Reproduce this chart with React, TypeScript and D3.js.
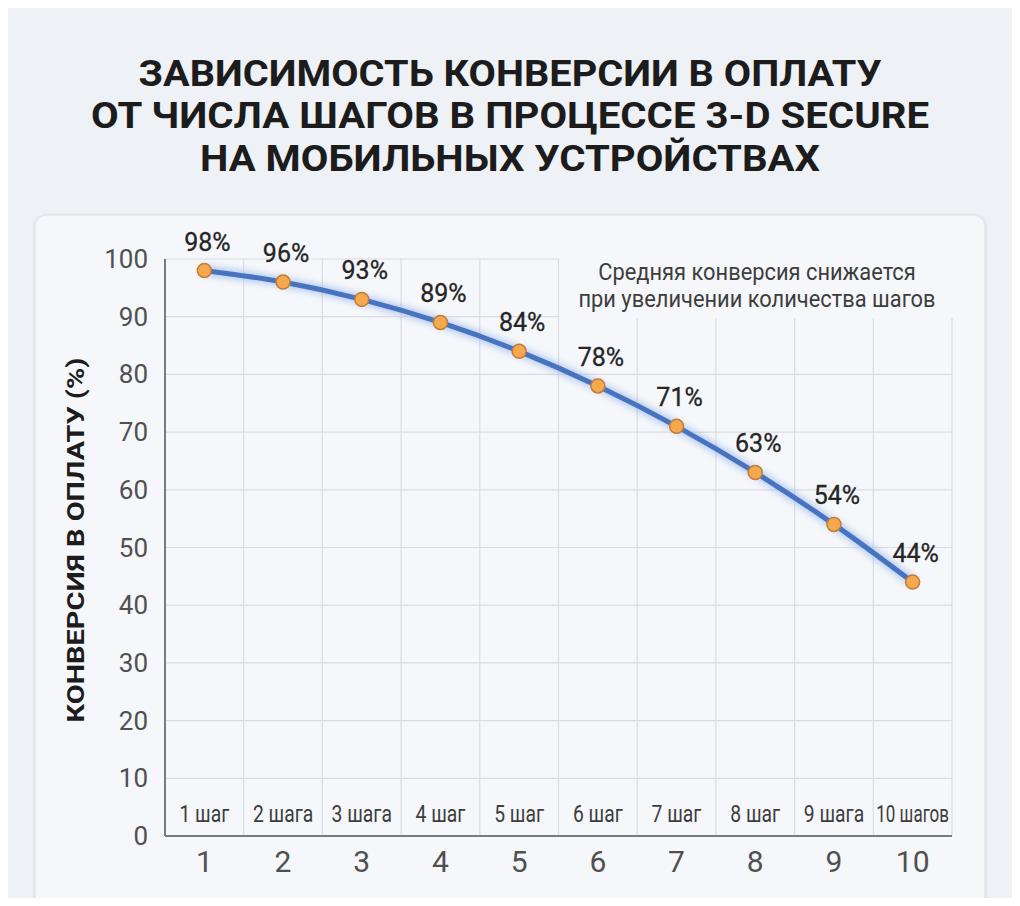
import React, { useEffect, useRef } from 'react';
import * as d3 from 'd3';

const steps = [1, 2, 3, 4, 5, 6, 7, 8, 9, 10];
const stepLabels = ['1 шаг', '2 шага', '3 шага', '4 шаг', '5 шаг', '6 шаг', '7 шаг', '8 шаг', '9 шага', '10 шагов'];
const conversion = [98, 96, 93, 89, 84, 78, 71, 63, 54, 44];
const yTicks = [0, 10, 20, 30, 40, 50, 60, 70, 80, 90, 100];
const titleLines = [
  'ЗАВИСИМОСТЬ КОНВЕРСИИ В ОПЛАТУ',
  'ОТ ЧИСЛА ШАГОВ В ПРОЦЕССЕ 3-D SECURE',
  'НА МОБИЛЬНЫХ УСТРОЙСТВАХ',
];
const noteLines = ['Средняя конверсия снижается', 'при увеличении количества шагов'];
const yLabel = 'КОНВЕРСИЯ В ОПЛАТУ (%)';

const W = 1020;
const H = 906;
const FONT = 'Roboto, "Noto Sans", sans-serif';

const App: React.FC = () => {
  const svgRef = useRef<SVGSVGElement>(null);

  useEffect(() => {
    if (!svgRef.current) return;
    const root = d3.select(svgRef.current);
    root.selectAll('*').remove();

    const plot = { left: 165, right: 952, top: 259, bottom: 836 };

    // Background + card
    root.append('rect').attr('width', W).attr('height', H).attr('fill', '#eef1f5');
    const defs = root.append('defs');
    const sh = defs.append('filter').attr('id', 'cardShadow').attr('x', '-5%').attr('y', '-5%').attr('width', '110%').attr('height', '110%');
    sh.append('feDropShadow').attr('dx', 0).attr('dy', 1).attr('stdDeviation', 1.5).attr('flood-color', '#9aa4b2').attr('flood-opacity', 0.35);
    const glow = defs.append('filter').attr('id', 'lineGlow').attr('x', '-10%').attr('y', '-20%').attr('width', '120%').attr('height', '140%');
    glow.append('feGaussianBlur').attr('stdDeviation', 3);

    root.append('rect')
      .attr('x', 35).attr('y', 215).attr('width', 950).attr('height', 720)
      .attr('rx', 11)
      .attr('fill', '#f5f7fa')
      .attr('stroke', '#e1e5eb')
      .attr('stroke-width', 1.5)
      .attr('filter', 'url(#cardShadow)');

    // Title
    const titleWidths = [743, 838, 620];
    const titleBase = [86, 128, 171];
    titleLines.forEach((t, i) => {
      root.append('text')
        .attr('x', 510).attr('y', titleBase[i])
        .attr('text-anchor', 'middle')
        .attr('font-family', FONT)
        .attr('font-weight', 700)
        .attr('font-size', 37)
        .attr('fill', '#1c1c1c')
        .attr('textLength', titleWidths[i])
        .attr('lengthAdjust', 'spacingAndGlyphs')
        .text(t);
    });

    // Scales
    const x = d3.scaleBand<number>().domain(steps).range([plot.left, plot.right]).padding(0);
    const y = d3.scaleLinear().domain([0, 100]).range([plot.bottom, plot.top]);
    const cx = (s: number) => (x(s) as number) + x.bandwidth() / 2;

    const g = root.append('g');

    // Grid
    g.append('g')
      .selectAll('line')
      .data(yTicks.filter(t => t > 0))
      .join('line')
      .attr('x1', plot.left).attr('x2', plot.right)
      .attr('y1', d => y(d)).attr('y2', d => y(d))
      .attr('stroke', '#d9dde3').attr('stroke-width', 1.2);

    g.append('g')
      .selectAll('line')
      .data(steps)
      .join('line')
      .attr('x1', d => (x(d) as number) + x.bandwidth()).attr('x2', d => (x(d) as number) + x.bandwidth())
      .attr('y1', plot.top).attr('y2', plot.bottom)
      .attr('stroke', '#d9dde3').attr('stroke-width', 1.2);

    // Mask behind the note (grid cut out)
    const maskX = (x(6) as number) + 1;
    g.append('rect')
      .attr('x', maskX).attr('y', plot.top - 6)
      .attr('width', plot.right - maskX + 3).attr('height', 318 - plot.top + 6)
      .attr('fill', '#f5f7fa');

    // Note
    noteLines.forEach((t, i) => {
      g.append('text')
        .attr('transform', `translate(757,${280 + i * 27}) scale(0.93,1)`)
        .attr('text-anchor', 'middle')
        .attr('font-family', FONT)
        .attr('font-size', 23.5)
        .attr('fill', '#3d3d3d')
        .text(t);
    });

    // Axes lines
    g.append('line')
      .attr('x1', plot.left).attr('x2', plot.left)
      .attr('y1', plot.top).attr('y2', plot.bottom)
      .attr('stroke', '#777b80').attr('stroke-width', 2);
    g.append('line')
      .attr('x1', plot.left).attr('x2', plot.right)
      .attr('y1', plot.bottom).attr('y2', plot.bottom)
      .attr('stroke', '#777b80').attr('stroke-width', 2);

    // Y tick labels
    g.selectAll('text.yt')
      .data(yTicks)
      .join('text')
      .attr('class', 'yt')
      .attr('x', 148).attr('y', d => y(d) + 9)
      .attr('text-anchor', 'end')
      .attr('font-family', FONT)
      .attr('font-size', 26)
      .attr('fill', '#505050')
      .text(d => d);

    // X tick labels
    g.selectAll('text.xt')
      .data(steps)
      .join('text')
      .attr('class', 'xt')
      .attr('x', d => cx(d)).attr('y', 872)
      .attr('text-anchor', 'middle')
      .attr('font-family', FONT)
      .attr('font-size', 30)
      .attr('fill', '#505050')
      .text(d => d);

    // Step labels inside columns
    g.selectAll('text.st')
      .data(steps)
      .join('text')
      .attr('class', 'st')
      .attr('transform', (d, i) => `translate(${cx(d)},${plot.bottom - 14}) scale(${i === 9 ? 0.74 : 0.84},1)`)
      .attr('text-anchor', 'middle')
      .attr('font-family', FONT)
      .attr('font-size', 23)
      .attr('fill', '#3d3d3d')
      .text((d, i) => stepLabels[i]);

    // Y axis title
    g.append('text')
      .attr('transform', `translate(84,540) rotate(-90)`)
      .attr('text-anchor', 'middle')
      .attr('font-family', FONT)
      .attr('font-weight', 700)
      .attr('font-size', 23)
      .attr('fill', '#1c1c1c')
      .attr('textLength', 365)
      .attr('lengthAdjust', 'spacingAndGlyphs')
      .text(yLabel);

    // Line
    const pts = steps.map((s, i) => ({ s, v: conversion[i] }));
    const line = d3.line<{ s: number; v: number }>()
      .x(d => cx(d.s))
      .y(d => y(d.v))
      .curve(d3.curveMonotoneX);

    g.append('path')
      .datum(pts)
      .attr('fill', 'none')
      .attr('stroke', '#8fb0ea')
      .attr('stroke-width', 10)
      .attr('opacity', 0.6)
      .attr('filter', 'url(#lineGlow)')
      .attr('d', line);

    g.append('path')
      .datum(pts)
      .attr('fill', 'none')
      .attr('stroke', '#4873c0')
      .attr('stroke-width', 5)
      .attr('stroke-linejoin', 'round')
      .attr('d', line);

    g.selectAll('circle.pt')
      .data(pts)
      .join('circle')
      .attr('class', 'pt')
      .attr('cx', d => cx(d.s))
      .attr('cy', d => y(d.v))
      .attr('r', 7)
      .attr('fill', '#f5a94f')
      .attr('stroke', '#c27c36')
      .attr('stroke-width', 1.5);

    // Value labels
    g.selectAll('text.vl')
      .data(pts)
      .join('text')
      .attr('class', 'vl')
      .attr('x', d => cx(d.s) + 3)
      .attr('y', d => y(d.v) - 20)
      .attr('text-anchor', 'middle')
      .attr('font-family', FONT)
      .attr('font-size', 25)
      .attr('fill', '#262626')
      .attr('stroke', '#262626')
      .attr('stroke-width', 0.3)
      .text(d => `${d.v}%`);
  }, []);

  return (
    <div style={{ width: W, height: H, margin: -8, overflow: 'hidden' }}>
      <svg ref={svgRef} width={W} height={H} style={{ display: 'block' }} />
    </div>
  );
};

export default App;
